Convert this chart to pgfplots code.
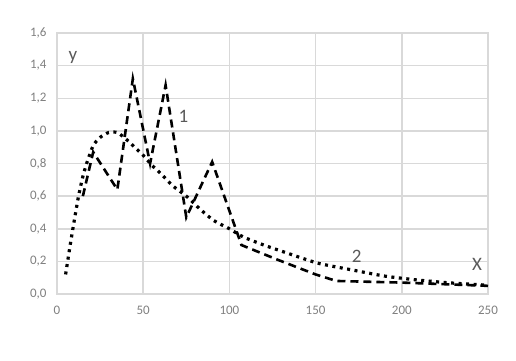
\documentclass[border=0pt]{standalone}
\usepackage{fontspec}
\setmainfont{Carlito}
\usepackage{pgfplots}
\pgfplotsset{compat=1.18}
\definecolor{gridc}{HTML}{D9D9D9}
\definecolor{tickc}{HTML}{7F7F7F}
\definecolor{labc}{HTML}{595959}
\begin{document}
\begin{tikzpicture}[x=1pt,y=1pt]
\begin{axis}[
  at={(0pt,0pt)}, anchor=south west,
  scale only axis, width=431pt, height=261pt,
  xmin=0, xmax=250, ymin=0, ymax=1.6,
  xtick={0,50,100,150,200,250},
  ytick={0,0.2,0.4,0.6,0.8,1.0,1.2,1.4,1.6},
  grid=major,
  major grid style={draw=gridc, line width=1.5pt},
  axis line style={draw=gridc, line width=1.5pt},
  major tick length=0pt,
  tick style={draw=none},
  /pgf/number format/assume math mode=true,
  ticklabel style={font=\fontsize{13}{15}\selectfont, text=tickc},
  yticklabel style={/pgf/number format/.cd, fixed, fixed zerofill, precision=1, use comma, /tikz/.cd, xshift=-7pt},
  xticklabel style={yshift=-9pt},
  clip=false,
]
% curve 1 (dashed)
\addplot[black, line width=2.6pt, dash pattern=on 8pt off 5pt] coordinates {
(15,0.60) (21,0.87) (35,0.64) (44,1.32) (54,0.80) (63,1.28) (75,0.47)
(90,0.81) (107,0.30) (128,0.21) (150,0.12) (162,0.08) (200,0.07) (250,0.05)
};
% curve 2 (dotted)
\addplot[black, line width=3.2pt, dash pattern=on 3pt off 4.5pt, smooth, tension=0.4] coordinates {
(5,0.12) (7.5,0.29) (10,0.45) (12.5,0.60) (15,0.72) (17.5,0.81) (21,0.91)
(25,0.96) (30,0.99) (35,0.99) (40,0.95) (45,0.90) (50,0.85) (55,0.79)
(60,0.74) (67.5,0.66) (75,0.60) (83,0.52) (91,0.45) (100,0.40) (108,0.35)
(120,0.30) (131,0.26) (151,0.19) (170,0.15) (190,0.11) (209,0.086)
(228,0.068) (248,0.055)
};
\node[text=labc, font=\fontsize{19}{21}\selectfont] at (axis cs:9.3,1.45) {y};
\node[text=labc, font=\fontsize{19}{21}\selectfont] at (axis cs:73.3,1.09) {1};
\node[text=labc, font=\fontsize{19}{21}\selectfont] at (axis cs:173.8,0.233) {2};
\node[text=labc, font=\fontsize{19}{21}\selectfont] at (axis cs:243.6,0.184) {X};
\end{axis}
\pgfresetboundingbox
\path[use as bounding box] (-57pt,-66pt) rectangle (459pt,294pt);
\end{tikzpicture}
\end{document}
